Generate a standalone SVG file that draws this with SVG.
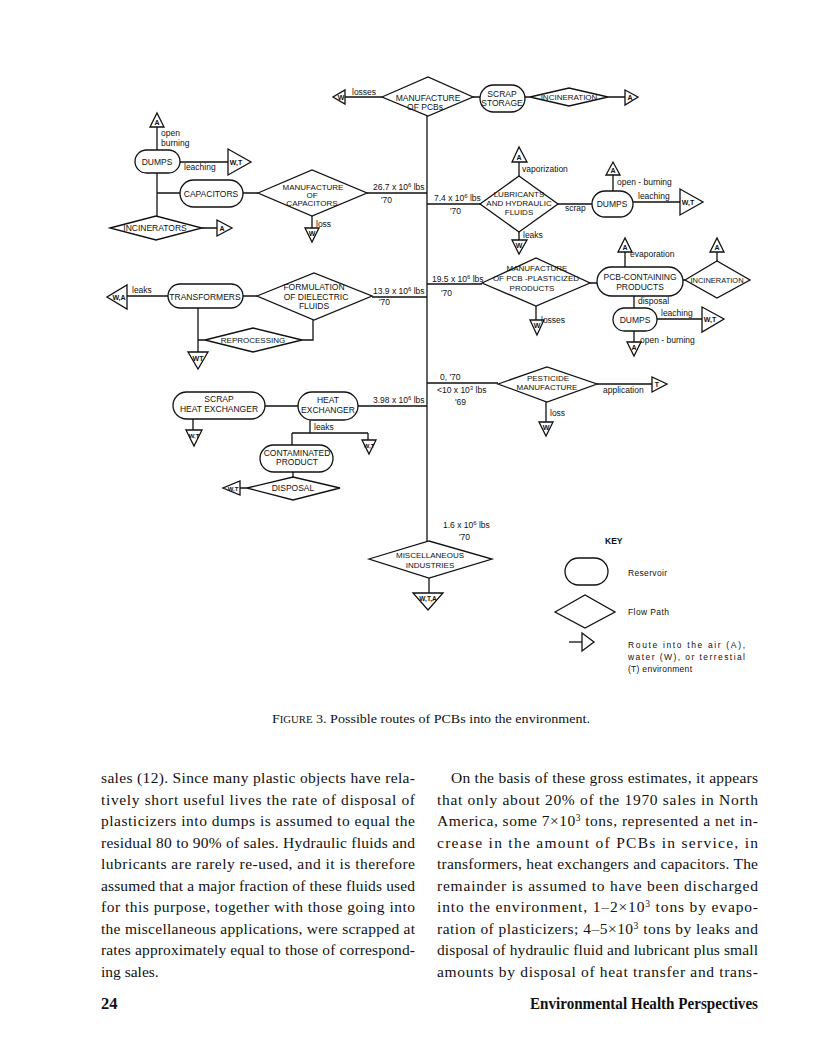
<svg xmlns="http://www.w3.org/2000/svg" width="816" height="1063" viewBox="0 0 816 1063">
<style>
.s{fill:none;stroke:#111;stroke-width:1.3}
.n{fill:#fff;stroke:#111;stroke-width:1.3}
.t{font-family:"Liberation Sans",Arial,sans-serif;font-size:8.5px;fill:#111;text-anchor:middle}
.ts{font-family:"Liberation Sans",Arial,sans-serif;font-size:7px;fill:#111;text-anchor:middle;font-weight:bold}
.l{font-family:"Liberation Sans",Arial,sans-serif;font-size:8.5px;fill:#111}
.k{font-family:"Liberation Sans",Arial,sans-serif;font-size:8.5px;fill:#111}
.b{font-family:"Liberation Serif","Times New Roman",serif;font-size:15.5px;fill:#111}
.f{font-family:"Liberation Serif","Times New Roman",serif;font-size:16.5px;font-weight:bold;fill:#111}
</style>
<rect width="816" height="1063" fill="#fff"/>

<g id="connectors">
<path class="s" d="M427 116V541"/>
<path class="s" d="M345 97H382M473 97H480M525 97H530M608 97H625"/>
<path class="s" d="M157 127V150M180 162H228M157 173V216M157 193H180M243 193H258M367 193H427M312 216V228M202 228H217"/>
<path class="s" d="M427 204H480M519 162V176M519 232V240M558 204H592M613 175V191M633 202H680"/>
<path class="s" d="M427 284H482M536 306V320M590 283H597M625 252V267M683 280H685M717 252V261M634 296V308M657 319H702M634 331V342"/>
<path class="s" d="M127 296H168M243 296H257M372 297H427M313 320V340H302M198 308V352M198 340H205"/>
<path class="s" d="M193 419V430M265 406H298M358 406H427M310 420V433M292 433H368M368 433V440M292 433V445M293 472V478M240 488H247"/>
<path class="s" d="M427 383H498M597 384H652M546 402V422"/>
<path class="s" d="M429 578V593"/>
</g>

<g id="n-manuf-pcbs"><polygon class="n" points="382,97 428,77 473,97 428,116"/><text class="t" x="428" y="101">MANUFACTURE</text><text class="t" x="425" y="110">OF PCBs</text></g>
<g id="r-w-losses"><polygon class="n" points="345,90 345,104 333,97"/><text class="ts" x="341" y="100">W</text><text class="l" x="352" y="95">losses</text></g>
<g id="n-scrap-storage"><rect class="n" x="480" y="85" width="45" height="27" rx="13.5"/><text class="t" x="502" y="97">SCRAP</text><text class="t" x="502" y="106">STORAGE</text></g>
<g id="n-incineration-top"><polygon class="n" points="530,97 569,88 608,97 569,106"/><text class="t" x="569" y="100" style="font-size:8px">INCINERATION</text></g>
<g id="r-a-top"><polygon class="n" points="625,90 625,105 638,97"/><text class="ts" x="630" y="100">A</text></g>

<g id="n-dumps-left"><rect class="n" x="135" y="150" width="45" height="23" rx="11.5"/><text class="t" x="157" y="165">DUMPS</text></g>
<g id="r-a-dumps-left"><polygon class="n" points="150,127 164,127 157,113"/><text class="ts" x="157" y="125">A</text><text class="l" x="161" y="136">open</text><text class="l" x="161" y="146">burning</text></g>
<g id="r-wt-dumps-left"><polygon class="n" points="228,149 228,175 251,162"/><text class="ts" x="236" y="165">W,T</text><text class="l" x="184" y="170">leaching</text></g>
<g id="n-capacitors"><rect class="n" x="180" y="180" width="63" height="27" rx="13.5"/><text class="t" x="211" y="197">CAPACITORS</text></g>
<g id="n-manuf-capacitors"><polygon class="n" points="258,193 312,170 367,193 312,216"/><text class="t" x="313" y="190" style="font-size:8px">MANUFACTURE</text><text class="t" x="312" y="198" style="font-size:8px">OF</text><text class="t" x="312" y="206" style="font-size:8px">CAPACITORS</text></g>
<g id="lbl-capacitors"><text class="l" x="373" y="190">26.7 x 10<tspan dy="-3" style="font-size:6px">6</tspan><tspan dy="3"> lbs</tspan></text><text class="l" x="381" y="203">'70</text></g>
<g id="r-w-loss-cap"><polygon class="n" points="305,228 319,228 312,242"/><text class="ts" x="312" y="236">W</text><text class="l" x="316" y="227">loss</text></g>
<g id="n-incinerators"><polygon class="n" points="110,228 156,216 202,228 156,240"/><text class="t" x="155" y="231">INCINERATORS</text></g>
<g id="r-a-incinerators"><polygon class="n" points="217,220 217,236 232,228"/><text class="ts" x="222" y="231">A</text></g>

<g id="n-lubricants"><polygon class="n" points="480,204 519,176 558,204 519,232"/><text class="t" x="519" y="197" style="font-size:8px">LUBRICANTS</text><text class="t" x="519" y="206" style="font-size:8px">AND HYDRAULIC</text><text class="t" x="519" y="215" style="font-size:8px">FLUIDS</text></g>
<g id="lbl-lubricants"><text class="l" x="434" y="201">7.4 x 10<tspan dy="-3" style="font-size:6px">6</tspan><tspan dy="3"> lbs</tspan></text><text class="l" x="450" y="214">'70</text></g>
<g id="r-a-lub"><polygon class="n" points="512,162 527,162 519,147"/><text class="ts" x="519" y="160">A</text><text class="l" x="522" y="172">vaporization</text></g>
<g id="r-w-lub"><polygon class="n" points="512,240 527,240 519,254"/><text class="ts" x="519" y="248">W</text><text class="l" x="523" y="238">leaks</text></g>
<g id="lbl-scrap"><text class="l" x="565" y="211">scrap</text></g>
<g id="n-dumps-right"><rect class="n" x="592" y="191" width="41" height="26" rx="13"/><text class="t" x="612" y="207">DUMPS</text></g>
<g id="r-a-dumps-right"><polygon class="n" points="606,175 620,175 613,162"/><text class="ts" x="613" y="173">A</text><text class="l" x="617" y="185">open - burning</text></g>
<g id="r-wt-dumps-right"><polygon class="n" points="680,189 680,215 703,202"/><text class="ts" x="688" y="205">W,T</text><text class="l" x="638" y="199">leaching</text></g>

<g id="n-manuf-plasticized"><polygon class="n" points="482,283 536,258 590,283 536,306"/><text class="t" x="537" y="271" style="font-size:8px">MANUFACTURE</text><text class="t" x="536" y="281" style="font-size:8px">OF PCB -PLASTICIZED</text><text class="t" x="532" y="291" style="font-size:8px">PRODUCTS</text></g>
<g id="lbl-plasticized"><text class="l" x="432" y="282">19.5 x 10<tspan dy="-3" style="font-size:6px">6</tspan><tspan dy="3"> lbs</tspan></text><text class="l" x="441" y="296">'70</text></g>
<g id="r-w-losses-pl"><polygon class="n" points="530,320 544,320 537,335"/><text class="ts" x="537" y="328">W</text><text class="l" x="541" y="323">losses</text></g>
<g id="n-pcb-products"><rect class="n" x="597" y="267" width="86" height="29" rx="14.5"/><text class="t" x="640" y="280">PCB-CONTAINING</text><text class="t" x="640" y="290">PRODUCTS</text></g>
<g id="r-a-evap"><polygon class="n" points="618,252 632,252 625,238"/><text class="ts" x="625" y="250">A</text><text class="l" x="630" y="257">evaporation</text></g>
<g id="n-incineration-right"><polygon class="n" points="685,280 717,261 750,280 717,298"/><text class="t" x="717" y="283" style="font-size:7.5px">INCINERATION</text></g>
<g id="r-a-incin-right"><polygon class="n" points="710,252 724,252 717,238"/><text class="ts" x="717" y="250">A</text></g>
<g id="lbl-disposal"><text class="l" x="638" y="304">disposal</text></g>
<g id="n-dumps-lower"><rect class="n" x="613" y="308" width="44" height="23" rx="11.5"/><text class="t" x="635" y="323">DUMPS</text></g>
<g id="r-wt-dumps-lower"><polygon class="n" points="702,307 702,332 724,319"/><text class="ts" x="710" y="322">W,T</text><text class="l" x="661" y="316">leaching</text></g>
<g id="r-a-dumps-lower"><polygon class="n" points="627,342 641,342 634,356"/><text class="ts" x="634" y="350">A</text><text class="l" x="640" y="343">open - burning</text></g>

<g id="r-wa-transformers"><polygon class="n" points="127,285 127,309 107,297"/><text class="ts" x="119" y="300">W,A</text><text class="l" x="132" y="293">leaks</text></g>
<g id="n-transformers"><rect class="n" x="168" y="284" width="75" height="24" rx="12"/><text class="t" x="205" y="300">TRANSFORMERS</text></g>
<g id="n-formulation"><polygon class="n" points="257,296 314,273 372,296 314,320"/><text class="t" x="314" y="290">FORMULATION</text><text class="t" x="316" y="300">OF  DIELECTRIC</text><text class="t" x="314" y="309">FLUIDS</text></g>
<g id="lbl-transformers"><text class="l" x="373" y="294">13.9 x 10<tspan dy="-3" style="font-size:6px">6</tspan><tspan dy="3"> lbs</tspan></text><text class="l" x="379" y="305">'70</text></g>
<g id="n-reprocessing"><polygon class="n" points="205,340 253,328 302,340 253,352"/><text class="t" x="253" y="343" style="font-size:8px">REPROCESSING</text></g>
<g id="r-wt-transformers"><polygon class="n" points="188,352 208,352 198,369"/><text class="ts" x="198" y="361">WT</text></g>

<g id="n-scrap-he"><rect class="n" x="173" y="392" width="92" height="27" rx="13.5"/><text class="t" x="219" y="402">SCRAP</text><text class="t" x="219" y="412">HEAT EXCHANGER</text></g>
<g id="r-wt-scrap-he"><polygon class="n" points="186,430 202,430 194,446"/><text class="ts" x="194" y="438" style="font-size:6px">W,T</text></g>
<g id="n-heat-exchanger"><rect class="n" x="298" y="392" width="60" height="28" rx="14"/><text class="t" x="328" y="403">HEAT</text><text class="t" x="328" y="413">EXCHANGER</text></g>
<g id="lbl-he"><text class="l" x="373" y="403">3.98 x 10<tspan dy="-3" style="font-size:6px">6</tspan><tspan dy="3"> lbs</tspan></text><text class="l" x="314" y="430">leaks</text></g>
<g id="r-wt-leaks"><polygon class="n" points="362,440 376,440 369,454"/><text class="ts" x="369" y="448" style="font-size:6px">W,T</text></g>
<g id="n-contaminated"><rect class="n" x="260" y="445" width="73" height="27" rx="13.5"/><text class="t" x="297" y="456">CONTAMINATED</text><text class="t" x="297" y="465">PRODUCT</text></g>
<g id="n-disposal"><polygon class="n" points="247,488 293,477 340,488 293,500"/><text class="t" x="293" y="491">DISPOSAL</text></g>
<g id="r-wt-disposal"><polygon class="n" points="240,481 240,495 223,488"/><text class="ts" x="233" y="491" style="font-size:6px">W,T</text></g>

<g id="lbl-pesticide"><text class="l" x="440" y="380">0, '70</text><text class="l" x="437" y="393">&lt;10 x 10<tspan dy="-3" style="font-size:6px">3</tspan><tspan dy="3"> lbs</tspan></text><text class="l" x="455" y="405">'69</text></g>
<g id="n-pesticide"><polygon class="n" points="498,384 547,367 597,384 547,402"/><text class="t" x="548" y="381" style="font-size:8px">PESTICIDE</text><text class="t" x="547" y="390" style="font-size:8px">MANUFACTURE</text></g>
<g id="r-t-pesticide"><polygon class="n" points="652,377 652,392 667,384"/><text class="ts" x="657" y="387">T</text><text class="l" x="603" y="393">application</text></g>
<g id="r-w-pesticide"><polygon class="n" points="539,422 553,422 546,436"/><text class="ts" x="546" y="430">W</text><text class="l" x="550" y="416">loss</text></g>

<g id="lbl-misc"><text class="l" x="443" y="528">1.6 x 10<tspan dy="-3" style="font-size:6px">6</tspan><tspan dy="3"> lbs</tspan></text><text class="l" x="459" y="540">'70</text></g>
<g id="n-misc"><polygon class="n" points="369,559 429,541 492,559 429,578"/><text class="t" x="430" y="558" style="font-size:8px">MISCELLANEOUS</text><text class="t" x="430" y="568" style="font-size:8px">INDUSTRIES</text></g>
<g id="r-wta-misc"><polygon class="n" points="413,593 443,593 428,610"/><text class="ts" x="428" y="601" style="font-size:6.5px">W,T,A</text></g>

<g id="key">
<text class="k" x="605" y="544" style="font-weight:bold">KEY</text>
<rect class="n" x="565" y="558" width="43" height="27" rx="13.5"/>
<text class="k" x="628" y="576" textLength="39" lengthAdjust="spacing">Reservoir</text>
<polygon class="n" points="555,612 585,595 615,612 585,628"/>
<text class="k" x="628" y="615" textLength="41" lengthAdjust="spacing">Flow Path</text>
<path class="s" d="M569 642H582"/>
<polygon class="n" points="582,633 582,651 594,642"/>
<text class="k" x="628" y="648" textLength="117" lengthAdjust="spacing">Route into the air (A),</text>
<text class="k" x="628" y="660" textLength="117" lengthAdjust="spacing">water (W), or terrestial</text>
<text class="k" x="628" y="672" textLength="64" lengthAdjust="spacing">(T) environment</text>
</g>

<text x="272" y="723" textLength="318" lengthAdjust="spacingAndGlyphs" style="font-family:'Liberation Serif','Times New Roman',serif;font-size:12.5px;fill:#111">F<tspan style="font-size:9.5px">IGURE</tspan> 3. Possible routes of PCBs into the environment.</text>

<g id="body-left" class="b">
<text class="b" x="101" y="783" textLength="314" lengthAdjust="spacing">sales (12). Since many plastic objects have rela-</text>
<text class="b" x="101" y="804.5" textLength="314" lengthAdjust="spacing">tively short useful lives the rate of disposal of</text>
<text class="b" x="101" y="826" textLength="314" lengthAdjust="spacing">plasticizers into dumps is assumed to equal the</text>
<text class="b" x="101" y="847.5" textLength="314" lengthAdjust="spacing">residual 80 to 90% of sales. Hydraulic fluids and</text>
<text class="b" x="101" y="869" textLength="314" lengthAdjust="spacing">lubricants are rarely re-used, and it is therefore</text>
<text class="b" x="101" y="890.5" textLength="314" lengthAdjust="spacing">assumed that a major fraction of these fluids used</text>
<text class="b" x="101" y="912" textLength="314" lengthAdjust="spacing">for this purpose, together with those going into</text>
<text class="b" x="101" y="933.5" textLength="314" lengthAdjust="spacing">the miscellaneous applications, were scrapped at</text>
<text class="b" x="101" y="955" textLength="314" lengthAdjust="spacing">rates approximately equal to those of correspond-</text>
<text class="b" x="101" y="976.5">ing sales.</text>
</g>
<g id="body-right" class="b">
<text class="b" x="451" y="783" textLength="307" lengthAdjust="spacing">On the basis of these gross estimates, it appears</text>
<text class="b" x="437" y="804.5" textLength="321" lengthAdjust="spacing">that only about 20% of the 1970 sales in North</text>
<text class="b" x="437" y="826" textLength="321" lengthAdjust="spacing">America, some 7×10<tspan dy="-5" style="font-size:9.5px">3</tspan><tspan dy="5"> tons, represented a net in-</tspan></text>
<text class="b" x="437" y="847.5" textLength="321" lengthAdjust="spacing">crease in the amount of PCBs in service, in</text>
<text class="b" x="437" y="869" textLength="321" lengthAdjust="spacing">transformers, heat exchangers and capacitors. The</text>
<text class="b" x="437" y="890.5" textLength="321" lengthAdjust="spacing">remainder is assumed to have been discharged</text>
<text class="b" x="437" y="912" textLength="321" lengthAdjust="spacing">into the environment, 1–2×10<tspan dy="-5" style="font-size:9.5px">3</tspan><tspan dy="5"> tons by evapo-</tspan></text>
<text class="b" x="437" y="933.5" textLength="321" lengthAdjust="spacing">ration of plasticizers; 4–5×10<tspan dy="-5" style="font-size:9.5px">3</tspan><tspan dy="5"> tons by leaks and</tspan></text>
<text class="b" x="437" y="955" textLength="321" lengthAdjust="spacing">disposal of hydraulic fluid and lubricant plus small</text>
<text class="b" x="437" y="976.5" textLength="321" lengthAdjust="spacing">amounts by disposal of heat transfer and trans-</text>
</g>

<text class="f" x="101" y="1009">24</text>
<text class="f" x="530" y="1009" textLength="228" lengthAdjust="spacingAndGlyphs">Environmental Health Perspectives</text>
</svg>
